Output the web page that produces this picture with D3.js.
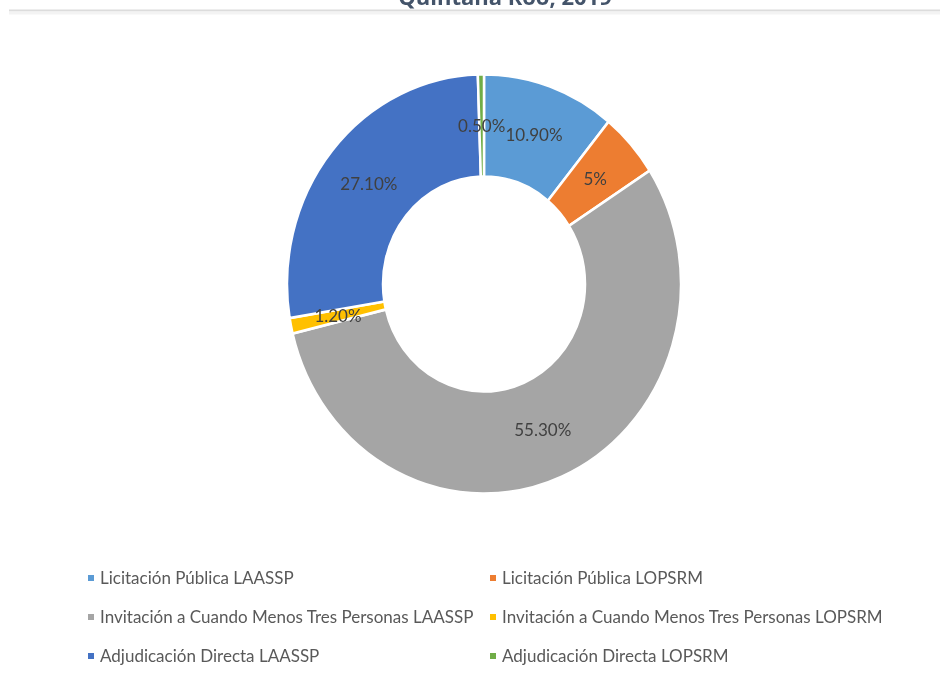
<!DOCTYPE html>
<html>
<head>
<meta charset="utf-8">
<script src="https://cdn.jsdelivr.net/npm/d3@7"></script>
<style>
  body { margin: 0; background: #fff; }
  svg { display: block; filter: blur(0.5px); }
</style>
</head>
<body>
<div id="chart"></div>
<script>
// chart values
const title = 'Quintana Roo, 2019';
const categories = [
  'Licitación Pública LAASSP',
  'Licitación Pública LOPSRM',
  'Invitación a Cuando Menos Tres Personas LAASSP',
  'Invitación a Cuando Menos Tres Personas LOPSRM',
  'Adjudicación Directa LAASSP',
  'Adjudicación Directa LOPSRM'
];
const values = [10.9, 5, 55.3, 1.2, 27.1, 0.5];
const valueLabels = ['10.90%', '5%', '55.30%', '1.20%', '27.10%', '0.50%'];
const colors = ['#5b9bd5', '#ed7d31', '#a5a5a5', '#ffc000', '#4472c4', '#70ad47'];

const width = 940, height = 681;
const cx = 484, cy = 284;
const outerR = 197, innerR = 101;
const stretchY = 1.064; // the picture is a bit taller than wide

const svg = d3.select('#chart')
  .append('svg')
  .attr('width', width)
  .attr('height', height);

// title, cut off at the top
svg.append('text')
  .attr('x', 505)
  .attr('y', 5)
  .attr('text-anchor', 'middle')
  .attr('font-family', 'Open Sans, sans-serif')
  .attr('font-weight', 'bold')
  .attr('font-size', 22)
  .attr('fill', '#44546a')
  .text(title);

svg.append('line')
  .attr('x1', 9).attr('x2', width)
  .attr('y1', 10.5).attr('y2', 10.5)
  .attr('stroke', '#dcdcdc')
  .attr('stroke-width', 2);
svg.append('line')
  .attr('x1', 9).attr('x2', width)
  .attr('y1', 13).attr('y2', 13)
  .attr('stroke', '#f3f3f3')
  .attr('stroke-width', 3);

const pie = d3.pie().sort(null).value(d => d);
const arc = d3.arc().innerRadius(innerR).outerRadius(outerR);
const slices = pie(values);

const g = svg.append('g')
  .attr('transform', `translate(${cx},${cy}) scale(1,${stretchY})`);

g.selectAll('path')
  .data(slices)
  .join('path')
  .attr('d', arc)
  .attr('fill', (d, i) => colors[i])
  .attr('stroke', '#fff')
  .attr('stroke-width', 2.5);

g.selectAll('text')
  .data(slices)
  .join('text')
  .attr('transform', d => `translate(${arc.centroid(d)})`)
  .attr('text-anchor', 'middle')
  .attr('dy', '0.35em')
  .attr('font-family', 'Lato, sans-serif')
  .attr('font-size', 17)
  .attr('fill', '#404040')
  .text((d, i) => valueLabels[i]);

// legend, two columns
const colX = [91, 493];
const rowY = d3.scalePoint().domain([0, 1, 2]).range([578, 656]);

const legend = svg.append('g')
  .selectAll('g')
  .data(categories)
  .join('g')
  .attr('transform', (d, i) => `translate(${colX[i % 2]},${rowY(Math.floor(i / 2))})`);

legend.append('rect')
  .attr('x', -3).attr('y', -3)
  .attr('width', 6).attr('height', 6)
  .attr('fill', (d, i) => colors[i]);

legend.append('text')
  .attr('x', 9)
  .attr('dy', '0.35em')
  .attr('font-family', 'Lato, sans-serif')
  .attr('font-size', 17)
  .attr('fill', '#595959')
  .text(d => d);
</script>
</body>
</html>
